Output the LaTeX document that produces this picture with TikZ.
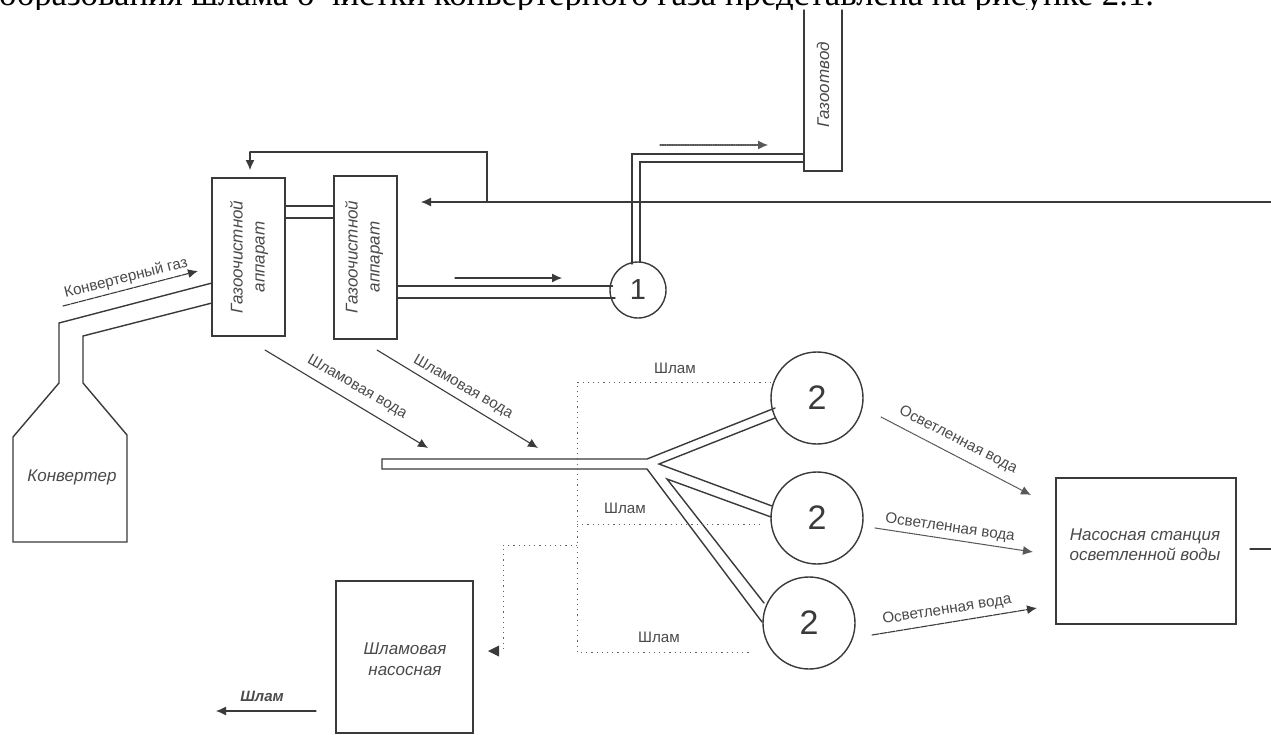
\documentclass[tikz,border=0pt]{standalone}
\usepackage{fontspec}
\setmainfont{Liberation Sans}
\newfontfamily\topserif{Liberation Serif}
\usetikzlibrary{arrows.meta}
\definecolor{ink}{HTML}{3A3A3A}
\definecolor{txt}{HTML}{4A4A4A}
\tikzset{
  line/.style={draw=ink,line width=1.4pt,line cap=round,line join=miter},
  box/.style={line,rectangle,inner sep=0pt,outer sep=0pt,fill=white},
  bare/.style={rectangle,inner sep=0pt,outer sep=0pt},
  disc/.style={line,circle,inner sep=0pt,outer sep=0pt,fill=white,text=ink},
  flow/.style={line,line width=1.1pt,-{Latex[length=10pt,width=9pt]}},
  dflow/.style={flow,dash pattern=on 7pt off 1.2pt},
  sflow/.style={flow,dash pattern=on 1.5pt off 0.8pt,draw=ink!85},
  dots/.style={draw=ink!80,line width=1pt,dash pattern=on 1.2pt off 4pt},
  lab/.style={inner sep=0pt,text=txt,font=\fontsize{15.2}{17}\selectfont},
  ilab/.style={inner sep=0pt,text=txt,align=center,font=\fontsize{17}{22}\selectfont\itshape},
}
\begin{document}
\begin{tikzpicture}[x=1pt,y=-1pt]
\useasboundingbox (0,0) rectangle (1271,734);
\node[anchor=base west,inner sep=0pt,text=black,font=\topserif\fontsize{34.8}{36}\selectfont] (head) at (-1,5) {образования шлама о чистки конвертерного газа представлена на рисунке 2.1.};
\fill[white] (0,10) rectangle (1271,734);

% coordinates
\coordinate (nL) at (59,383); \coordinate (nR) at (83,383);
\coordinate (sL) at (13,437); \coordinate (sR) at (127,435);
\coordinate (bL) at (13,542); \coordinate (bR) at (127,542);
\coordinate (kU) at (59,323); \coordinate (kD) at (83,336);
\coordinate (fork) at (647,459); \coordinate (forkB) at (647,469);
\coordinate (f1) at (659,464); \coordinate (f2) at (667,479);
\coordinate (retR) at (1271,202); \coordinate (retL) at (421,202);
\coordinate (retJ) at (487,202); \coordinate (retU) at (487,152);
\coordinate (retC) at (250,152); \coordinate (retT) at (250,170);
\coordinate (outA) at (1250,549); \coordinate (outB) at (1271,549);

% boxes
\node[box,minimum width=73pt,minimum height=158pt] (gas1) at (248.5,257) {};
\node[box,minimum width=63pt,minimum height=163pt] (gas2) at (365.5,257.5) {};
\node[bare,minimum width=38pt,minimum height=161pt] (duct) at (823,90.5) {};
\draw[line] (duct.north west) -- (duct.south west) -- (duct.south east) -- (duct.north east);
\node[box,minimum width=180pt,minimum height=146pt] (pump) at (1146,551) {};
\node[box,minimum width=137pt,minimum height=152pt] (sludge) at (404.5,657) {};

% circles
\node[disc,minimum size=56pt,font=\fontsize{29}{29}\selectfont] (c1) at (638,290) {1};
\node[disc,minimum size=92pt,font=\fontsize{34}{34}\selectfont] (c2a) at (817,398) {2};
\node[disc,minimum size=92pt,font=\fontsize{34}{34}\selectfont] (c2b) at (817,518) {2};
\node[disc,minimum size=92pt,font=\fontsize{34}{34}\selectfont] (c2c) at (809,623) {2};

% converter and gas inlet
\draw[line] (gas1.west |- 0,283) -- (kU) -- (nL) -- (sL) -- (bL) -- (bR) -- (sR) -- (nR) -- (kD) -- (gas1.west |- 0,303);

% pipes
\draw[line] (gas1.east |- 0,206) -- (gas2.west |- 0,206);
\draw[line] (gas1.east |- 0,218) -- (gas2.west |- 0,218);
\draw[line] (gas2.east |- 0,286) -- (612.5,286);
\draw[line] (gas2.east |- 0,298) -- (615,298);
\draw[line] (632,264) -- (632,154) -- (duct.west |- 0,154);
\draw[line] (640,262) -- (640,162) -- (duct.west |- 0,162);
\draw[line] (775,408) -- (fork) -- (382,459) -- (382,469) -- (forkB) -- (762,622);
\draw[line] (775,418) -- (f1) -- (772,506);
\draw[line] (771,517) -- (f2) -- (764,603);

% return line
\draw[flow] (retR) -- (retL);
\draw[line,line width=1.1pt] (retJ) -- (retU) -- (retC);
\draw[flow] (retC) -- (retT);
\draw[line,line width=1.1pt] (outA) -- (outB);

% dotted sludge lines
\draw[dots] (c2a.west |- 0,382) -- (577,382) -- (577,652) -- (752,652);
\draw[dots] (577,524) -- (764,524);
\draw[dots] (577,545) -- (503,545) -- (503,650);
\fill[ink] (488,651) -- (499,645.5) -- (499,656.5) -- cycle;

% flow arrows
\coordinate (g1) at (63,306); \coordinate (g2) at (198,271);
\draw[dflow] (g1) -- (g2);
\coordinate (a1) at (455,278); \coordinate (a2) at (562,278);
\draw[flow] (a1) -- (a2);
\coordinate (b1) at (660,145); \coordinate (b2) at (768,145);
\draw[sflow] (b1) -- (b2);
\coordinate (w1) at (265,350); \coordinate (w2) at (428,448);
\draw[flow] (w1) -- (w2);
\coordinate (w3) at (377,350); \coordinate (w4) at (538,448);
\draw[flow] (w3) -- (w4);
\coordinate (o1) at (881,417); \coordinate (o2) at (1031,495);
\draw[sflow] (o1) -- (o2);
\coordinate (o3) at (875,528); \coordinate (o4) at (1033,552);
\draw[sflow] (o3) -- (o4);
\coordinate (o5) at (872,635); \coordinate (o6) at (1037,608);
\draw[dflow] (o5) -- (o6);
\coordinate (s1) at (316,711); \coordinate (s2) at (216,711);
\draw[flow] (s1) -- (s2);

% labels
\node[ilab,rotate=90] (t1) at (249,257) {Газоочистной\\аппарат};
\node[ilab,rotate=90] (t2) at (364,257) {Газоочистной\\аппарат};
\node[ilab,rotate=90] (t3) at (823,85) {Газоотвод};
\node[ilab] (t4) at (72,477) {Конвертер};
\node[ilab,font=\fontsize{17}{20}\selectfont\itshape] (t5) at (1145,545) {Насосная станция\\осветленной воды};
\node[ilab,font=\fontsize{17}{21}\selectfont\itshape] (t6) at (405,659) {Шламовая\\насосная};
\node[lab,font=\fontsize{15}{17}\selectfont\bfseries\itshape] (t7) at (262,696) {Шлам};
\node[lab,rotate=14] (l1) at (126,278) {Конвертерный газ};
\node[lab,rotate=-30] (l2) at (357,387) {Шламовая вода};
\node[lab,rotate=-30] (l3) at (463,387) {Шламовая вода};
\node[lab] (l4) at (675,368) {Шлам};
\node[lab] (l5) at (625,508) {Шлам};
\node[lab] (l6) at (659,637) {Шлам};
\node[lab,rotate=-27] (l7) at (958,440) {Осветленная вода};
\node[lab,rotate=-8] (l8) at (950,528) {Осветленная вода};
\node[lab,rotate=9] (l9) at (947,610) {Осветленная вода};
\end{tikzpicture}
\end{document}
